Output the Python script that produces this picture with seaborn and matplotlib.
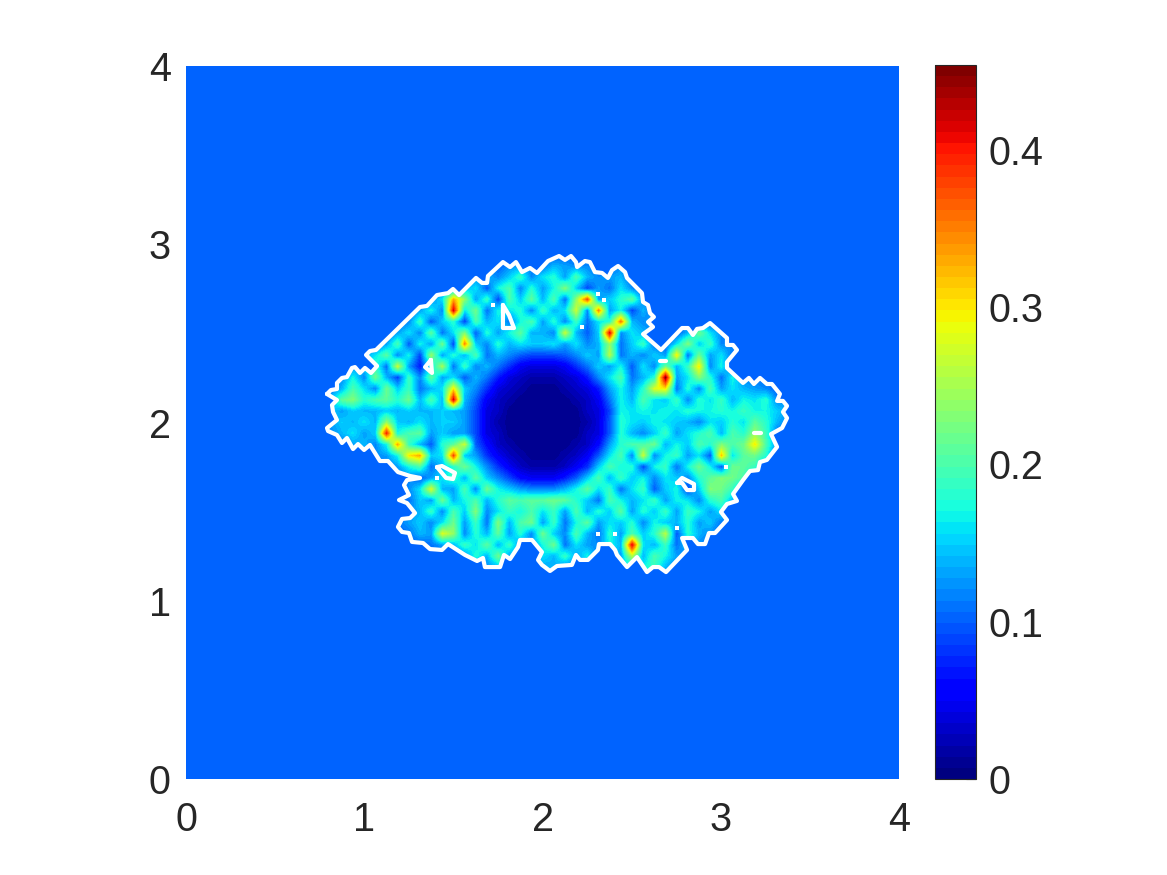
import numpy as np
import seaborn as sns
import matplotlib
matplotlib.use("Agg")
import matplotlib.pyplot as plt
from matplotlib.patches import Polygon

# field values in hundredths, one row per y (top to bottom)
OUTSIDE = 10
VMAX = 0.454
CELLS_PER_UNIT = 16
FIRST_COL = 12
TOP_ROW = 48
N_COLS = 43
ROW_START = [0, 0, 17, 14, 12, 10, 9, 8, 7, 6, 4, 3, 2, 1, 0, 0, 0, 1, 2, 5, 7, 8, 8, 8, 8, 7, 8, 10, 13, 15, 0]
ROW_VALUES = [
    [],
    [],
    [12, 13, 11, 11, 14, 13, 12, 12, 11, 10, 12, 13],
    [12, 14, 12, 15, 19, 12, 16, 18, 13, 20, 14, 12, 13, 14],
    [12, 14, 16, 10, 17, 20, 12, 18, 13, 17, 23, 15, 9, 13, 11, 16, 12],
    [12, 16, 33, 24, 13, 19, 9, 20, 15, 21, 14, 20, 11, 24, 38, 13, 15, 18, 21, 12],
    [13, 17, 12, 42, 16, 22, 11, 17, 16, 18, 12, 19, 14, 16, 27, 12, 35, 13, 17, 9, 14],
    [12, 19, 10, 15, 18, 9, 20, 14, 16, 11, 17, 20, 13, 18, 12, 19, 11, 16, 18, 36, 14, 12, 13],
    [13, 16, 12, 21, 11, 16, 23, 10, 18, 13, 17, 21, 14, 14, 12, 27, 14, 10, 15, 42, 12, 16, 14, 11, 10, 10, 14, 22, 16, 12],
    [13, 20, 10, 17, 13, 22, 9, 35, 15, 12, 18, 14, 16, 15, 15, 16, 13, 16, 12, 14, 24, 11, 15, 19, 11, 10, 16, 23, 15, 19, 12, 12],
    [13, 16, 21, 12, 17, 9, 24, 13, 18, 14, 20, 11, 14, 12, 10, 9, 9, 9, 10, 12, 15, 13, 26, 11, 14, 12, 15, 13, 30, 11, 22, 13, 16, 11],
    [12, 15, 19, 11, 27, 13, 7, 16, 25, 11, 19, 12, 14, 11, 8, 5, 4, 4, 4, 5, 8, 11, 15, 13, 17, 10, 16, 12, 22, 14, 19, 30, 12, 17, 10],
    [12, 17, 12, 22, 14, 9, 19, 12, 21, 13, 16, 10, 14, 11, 7, 4, 3, 2, 2, 2, 3, 4, 7, 12, 16, 20, 11, 14, 18, 45, 13, 16, 23, 18, 11, 17, 12, 11],
    [11, 14, 20, 16, 12, 22, 15, 19, 11, 14, 16, 30, 15, 12, 8, 4, 3, 2, 1, 1, 1, 2, 3, 4, 7, 13, 17, 13, 18, 28, 30, 11, 18, 12, 20, 13, 16, 14, 13, 12, 10, 10],
    [10, 14, 21, 23, 18, 20, 21, 18, 22, 14, 20, 14, 42, 14, 10, 5, 3, 2, 1, 1, 1, 1, 1, 2, 3, 5, 11, 17, 14, 20, 16, 15, 19, 12, 18, 16, 19, 14, 17, 16, 18, 12, 12],
    [10, 15, 13, 15, 14, 14, 15, 14, 15, 14, 14, 15, 14, 13, 9, 4, 3, 1, 1, 1, 1, 1, 1, 1, 3, 4, 9, 17, 16, 17, 16, 17, 16, 18, 17, 17, 18, 17, 19, 17, 17, 15, 13],
    [10, 13, 15, 14, 16, 14, 24, 15, 14, 16, 14, 15, 15, 13, 9, 4, 2, 1, 1, 1, 1, 1, 1, 1, 2, 4, 10, 18, 16, 15, 17, 16, 15, 14, 12, 16, 15, 18, 16, 21, 18, 14, 11],
    [12, 14, 16, 13, 15, 40, 17, 20, 21, 13, 15, 13, 13, 9, 4, 3, 1, 1, 1, 1, 1, 1, 1, 3, 4, 10, 18, 14, 12, 15, 19, 13, 16, 18, 20, 14, 20, 18, 24, 19, 11, 10],
    [11, 13, 14, 12, 17, 33, 19, 14, 10, 18, 21, 27, 10, 6, 3, 2, 1, 1, 1, 1, 1, 2, 3, 6, 13, 18, 20, 20, 22, 14, 17, 15, 20, 18, 23, 20, 22, 30, 20, 12, 10],
    [12, 13, 17, 30, 33, 15, 16, 38, 15, 13, 8, 5, 3, 2, 1, 1, 1, 2, 3, 5, 10, 16, 20, 12, 27, 12, 17, 19, 13, 16, 10, 32, 16, 21, 22, 18],
    [13, 17, 20, 11, 14, 18, 22, 17, 12, 8, 5, 3, 2, 2, 2, 3, 5, 8, 15, 20, 17, 18, 9, 17, 19, 11, 17, 22, 17, 10, 22, 21, 19, 12],
    [12, 10, 13, 16, 19, 14, 21, 15, 12, 9, 6, 5, 5, 5, 7, 10, 15, 20, 14, 19, 15, 17, 12, 16, 15, 12, 18, 21, 23, 22, 20, 12],
    [12, 16, 28, 14, 13, 20, 12, 22, 17, 15, 13, 12, 12, 12, 14, 17, 21, 16, 19, 11, 16, 19, 10, 15, 17, 9, 15, 23, 22, 19, 11],
    [11, 15, 13, 22, 14, 17, 20, 14, 18, 21, 20, 21, 21, 22, 21, 18, 15, 11, 20, 17, 14, 16, 19, 13, 17, 16, 12, 18, 20, 14, 10],
    [12, 14, 19, 12, 20, 15, 23, 12, 16, 19, 17, 20, 16, 19, 13, 20, 14, 18, 15, 21, 13, 18, 15, 19, 13, 19, 17, 13, 16, 11],
    [11, 13, 15, 12, 16, 22, 13, 19, 11, 23, 14, 20, 22, 13, 19, 11, 17, 21, 13, 16, 15, 18, 12, 17, 15, 14, 18, 13, 15, 11],
    [11, 14, 13, 28, 24, 12, 18, 14, 21, 13, 18, 12, 22, 15, 12, 20, 14, 11, 18, 13, 20, 15, 18, 26, 10, 18, 14, 12, 10],
    [11, 13, 14, 19, 16, 21, 14, 19, 12, 13, 17, 22, 11, 16, 13, 12, 17, 14, 42, 16, 14, 19, 11, 15, 12, 10],
    [12, 18, 14, 22, 13, 15, 11, 16, 14, 19, 13, 17, 11, 15, 13, 26, 14, 20, 17, 13, 11],
    [12, 14, 13, 12, 12, 13, 14, 12, 12, 11, 10, 10, 14, 15, 17, 19, 14, 11],
    [],
]

# white outline of the region
OUTLINE_X = [.791, .813, .847, .847, .875, .903, .931, .948, .976, 1.004, 1.038, 1.072, 1.010, 1.032, 1.066, 1.313, 1.352, 1.408, 1.470, 1.498, 1.532, 1.627, 1.661, 1.689, 1.694, 1.778, 1.818, 1.851, 1.885, 1.930, 1.969, 2.031, 2.093, 2.126, 2.160, 2.188, 2.194, 2.238, 2.266, 2.294, 2.334, 2.367, 2.390, 2.424, 2.463, 2.474, 2.558, 2.564, 2.592, 2.603, 2.625, 2.592, 2.620, 2.564, 2.665, 2.783, 2.816, 2.844, 2.867, 2.900, 2.940, 3.035, 3.035, 3.069, 3.091, 3.035, 3.035, 3.125, 3.158, 3.186, 3.220, 3.259, 3.287, 3.332, 3.316, 3.349, 3.372, 3.349, 3.372, 3.344, 3.282, 3.316, 3.259, 3.220, 3.209, 3.164, 3.125, 3.069, 3.091, 3.035, 3.001, 3.035, 2.968, 2.934, 2.912, 2.872, 2.844, 2.783, 2.811, 2.693, 2.654, 2.620, 2.586, 2.530, 2.474, 2.418, 2.407, 2.379, 2.317, 2.311, 2.255, 2.210, 2.188, 2.165, 2.081, 2.042, 1.997, 1.975, 1.997, 1.941, 1.874, 1.863, 1.818, 1.784, 1.762, 1.677, 1.666, 1.633, 1.565, 1.470, 1.436, 1.369, 1.330, 1.268, 1.251, 1.212, 1.189, 1.212, 1.257, 1.285, 1.240, 1.195, 1.251, 1.223, 1.240, 1.313, 1.257, 1.189, 1.133, 1.088, 1.032, .999, .965, .937, .903, .875, .847, .797, .791, .847, .825, .819, .847, .791]
OUTLINE_Y = [2.160, 2.182, 2.188, 2.222, 2.250, 2.255, 2.306, 2.311, 2.278, 2.306, 2.278, 2.317, 2.379, 2.401, 2.407, 2.648, 2.654, 2.715, 2.726, 2.749, 2.715, 2.811, 2.783, 2.783, 2.822, 2.900, 2.872, 2.900, 2.844, 2.867, 2.839, 2.906, 2.934, 2.912, 2.934, 2.900, 2.872, 2.906, 2.900, 2.844, 2.839, 2.811, 2.855, 2.878, 2.844, 2.811, 2.726, 2.676, 2.659, 2.614, 2.592, 2.564, 2.536, 2.496, 2.407, 2.530, 2.530, 2.491, 2.525, 2.530, 2.558, 2.474, 2.435, 2.435, 2.407, 2.339, 2.306, 2.222, 2.250, 2.216, 2.250, 2.216, 2.216, 2.160, 2.121, 2.121, 2.093, 2.059, 2.025, 1.969, 1.935, 1.863, 1.790, 1.778, 1.733, 1.728, 1.677, 1.599, 1.560, 1.543, 1.498, 1.453, 1.380, 1.380, 1.318, 1.318, 1.352, 1.352, 1.285, 1.161, 1.189, 1.189, 1.161, 1.245, 1.189, 1.257, 1.285, 1.318, 1.318, 1.285, 1.229, 1.229, 1.257, 1.201, 1.195, 1.167, 1.201, 1.229, 1.273, 1.341, 1.341, 1.302, 1.234, 1.257, 1.189, 1.189, 1.240, 1.223, 1.257, 1.318, 1.285, 1.290, 1.324, 1.330, 1.380, 1.386, 1.414, 1.459, 1.464, 1.492, 1.548, 1.565, 1.593, 1.649, 1.677, 1.689, 1.700, 1.722, 1.784, 1.784, 1.874, 1.846, 1.879, 1.851, 1.913, 1.885, 1.930, 1.952, 1.969, 2.014, 2.059, 2.098, 2.126, 2.160]

# small closed loops and short pieces of the same contour
LOOP_A_X = [1.778, 1.812, 1.840, 1.778, 1.778]
LOOP_A_Y = [2.659, 2.603, 2.530, 2.530, 2.659]
LOOP_B_X = [1.374, 1.341, 1.380, 1.374]
LOOP_B_Y = [2.351, 2.311, 2.278, 2.351]
LOOP_C_X = [1.408, 1.436, 1.509, 1.498, 1.459, 1.408]
LOOP_C_Y = [1.750, 1.756, 1.717, 1.683, 1.689, 1.750]
LOOP_D_X = [2.755, 2.783, 2.850, 2.850, 2.811, 2.783, 2.755]
LOOP_D_Y = [1.661, 1.689, 1.655, 1.621, 1.621, 1.661, 1.661]
DASH_A_X = [2.659, 2.693]
DASH_A_Y = [2.345, 2.345]
DASH_B_X = [3.186, 3.226]
DASH_B_Y = [1.941, 1.941]
DOTS_X = [2.311, 2.345, 2.222, 1.722, 1.408, 3.029, 2.755, 2.311, 2.407]
DOTS_Y = [2.721, 2.687, 2.536, 2.659, 1.689, 1.750, 1.408, 1.374, 1.374]

AXIS_TICKS = [0, 1, 2, 3, 4]
CBAR_TICKS = [0, 0.1, 0.2, 0.3, 0.4]
CBAR_LABELS = ["0", "0.1", "0.2", "0.3", "0.4"]

sns.set_theme(style="white")
plt.rcParams["font.family"] = ["Liberation Sans", "DejaVu Sans"]
TEXT = "#262626"

field = np.full((len(ROW_VALUES), N_COLS), OUTSIDE, dtype=float)
for i, (start, vals) in enumerate(zip(ROW_START, ROW_VALUES)):
    field[i, start:start + len(vals)] = vals
field = field / 100

jet = plt.get_cmap("jet", 64)
fig = plt.figure(figsize=(11.67, 8.75), dpi=100)
ax = fig.add_axes([186 / 1167, 96 / 875, 713 / 1167, 713 / 875])
cax = fig.add_axes([935 / 1167, 96 / 875, 41 / 1167, 714 / 875])

background = np.full((4 * CELLS_PER_UNIT, 4 * CELLS_PER_UNIT), OUTSIDE / 100)
sns.heatmap(background, ax=ax, cbar_ax=cax, cmap=jet, vmin=0, vmax=VMAX,
            square=False, xticklabels=False, yticklabels=False)

# image is smoothed by matplotlib in data space, so the colours go through the colormap
extent = (FIRST_COL - 0.5, FIRST_COL + N_COLS - 0.5, TOP_ROW - len(ROW_VALUES) + 0.5, TOP_ROW + 0.5)
inner = ax.imshow(field, extent=extent, origin="upper", cmap=jet, vmin=0, vmax=VMAX,
                  interpolation="bilinear", aspect="auto", zorder=1.5)
clip = Polygon(np.column_stack([OUTLINE_X, OUTLINE_Y]) * CELLS_PER_UNIT, closed=True, transform=ax.transData,
               fill=False, edgecolor="none")
ax.add_patch(clip)
inner.set_clip_path(clip)
ax.set_ylim(0, 4 * CELLS_PER_UNIT)
ax.set_xlim(0, 4 * CELLS_PER_UNIT)

pairs = [(OUTLINE_X, OUTLINE_Y), (LOOP_A_X, LOOP_A_Y), (LOOP_B_X, LOOP_B_Y), (LOOP_C_X, LOOP_C_Y),
         (LOOP_D_X, LOOP_D_Y), (DASH_A_X, DASH_A_Y), (DASH_B_X, DASH_B_Y)]
for xs, ys in pairs:
    ax.plot(np.array(xs) * CELLS_PER_UNIT, np.array(ys) * CELLS_PER_UNIT, color="white", lw=3.0,
            solid_joinstyle="round", solid_capstyle="round", zorder=3)
ax.scatter(np.array(DOTS_X) * CELLS_PER_UNIT, np.array(DOTS_Y) * CELLS_PER_UNIT, s=7, color="white", marker="s",
           linewidths=0, zorder=3)

ax.set_xticks(np.array(AXIS_TICKS) * CELLS_PER_UNIT, labels=[str(t) for t in AXIS_TICKS])
ax.set_yticks(np.array(AXIS_TICKS) * CELLS_PER_UNIT, labels=[str(t) for t in AXIS_TICKS], rotation=0)
ax.tick_params(axis="x", length=0, labelsize=28.5, labelcolor=TEXT, pad=16)
ax.tick_params(axis="y", length=0, labelsize=28.5, labelcolor=TEXT, pad=11)
for s in ax.spines.values():
    s.set_visible(False)

cbar = ax.collections[0].colorbar
cbar.set_ticks(CBAR_TICKS, labels=CBAR_LABELS)
cbar.ax.tick_params(direction="in", length=7, width=0.8, color=TEXT, labelsize=28.5, labelcolor=TEXT, pad=9)
cbar.outline.set_visible(True)
cbar.outline.set_linewidth(0.8)
cbar.outline.set_edgecolor(TEXT)

fig.savefig("out.png", dpi=100)
